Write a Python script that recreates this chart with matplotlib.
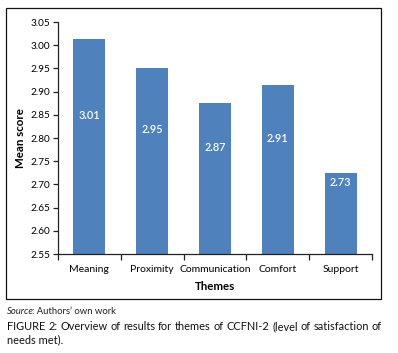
import matplotlib
matplotlib.use("Agg")
import matplotlib.pyplot as plt
from matplotlib.patches import Rectangle

# data
themes = ["Meaning", "Proximity", "Communication", "Comfort", "Support"]
mean_scores = [3.013, 2.950, 2.875, 2.914, 2.725]
score_labels = ["3.01", "2.95", "2.87", "2.91", "2.73"]
y_ticks = [2.55, 2.60, 2.65, 2.70, 2.75, 2.80, 2.85, 2.90, 2.95, 3.00, 3.05]

BAR_COLOR = "#4F81BD"
FONT = ["Lato", "DejaVu Sans"]
W, H = 398, 353
DPI = 100

plt.rcParams["font.family"] = FONT

fig = plt.figure(figsize=(W / DPI, H / DPI), dpi=DPI)
ax = fig.add_axes([58 / W, 1 - 254 / H, (372 - 58) / W, (254 - 22) / H])

x = list(range(len(themes)))
ax.bar(x, [v - y_ticks[0] for v in mean_scores], bottom=y_ticks[0],
       width=0.51, color=BAR_COLOR, zorder=2)

for xi, v, lab in zip(x, mean_scores, score_labels):
    ax.text(xi, (v + 2.685) / 2, lab, ha="center", va="center",
            color="white", fontsize=7.8, fontweight="semibold")

ax.set_xlim(-0.5, len(themes) - 0.5)
ax.set_ylim(y_ticks[0], y_ticks[-1])
ax.set_yticks(y_ticks)
ax.set_yticklabels(["%.2f" % t for t in y_ticks], fontsize=7.2)
ax.set_xticks(x)
ax.set_xticklabels(themes, fontsize=7.5)
ax.tick_params(axis="x", length=0, pad=8)
ax.set_xticks([i - 0.5 for i in range(len(themes) + 1)], minor=True)
ax.tick_params(axis="x", which="minor", length=4, width=0.9, color="#222222")
ax.tick_params(axis="y", length=3.5, width=0.9, color="#222222", pad=2)

for s in ["top", "right"]:
    ax.spines[s].set_visible(False)
for s in ["left", "bottom"]:
    ax.spines[s].set_linewidth(0.9)
    ax.spines[s].set_color("#222222")

fig.text(20 / W, 1 - 138 / H, "Mean score", rotation=90, ha="center",
         va="center", fontsize=8.3, fontweight="bold")
fig.text(215 / W, 1 - 286 / H, "Themes", ha="center", va="center",
         fontsize=8.3, fontweight="bold")

# outer frame of the chart
fig.patches.append(Rectangle((6 / W, 1 - 299 / H), 375 / W, 291 / H,
                             transform=fig.transFigure, fill=False,
                             edgecolor="#111111", linewidth=0.9))

# source line: italic word then regular text
fig.canvas.draw()
renderer = fig.canvas.get_renderer()
t1 = fig.text(7 / W, 1 - 311 / H, "Source", style="italic", fontsize=6.8,
              va="center", color="#222222")
bb = t1.get_window_extent(renderer)
fig.text((bb.x1 - 1.5) / W, 1 - 311 / H, ": Authors\u2019 own work", fontsize=6.8,
         va="center", color="#222222")

# justified caption
line1 = "FIGURE 2: Overview of results for themes of CCFNI-2 (level of satisfaction of"
line2 = "needs met)."
cap_size = 7.9
words = line1.split(" ")
left, right = 7, 382
objs = [fig.text(0, 1 - 327 / H, w, fontsize=cap_size, va="center",
                 color="#111111") for w in words]
widths = [o.get_window_extent(renderer).width for o in objs]
gap = (right - left - sum(widths)) / (len(words) - 1)
pos = left
for o, wd in zip(objs, widths):
    o.set_x(pos / W)
    pos += wd + gap
fig.text(left / W, 1 - 340 / H, line2, fontsize=cap_size, va="center",
         color="#111111")

fig.savefig("out.png", dpi=DPI)
